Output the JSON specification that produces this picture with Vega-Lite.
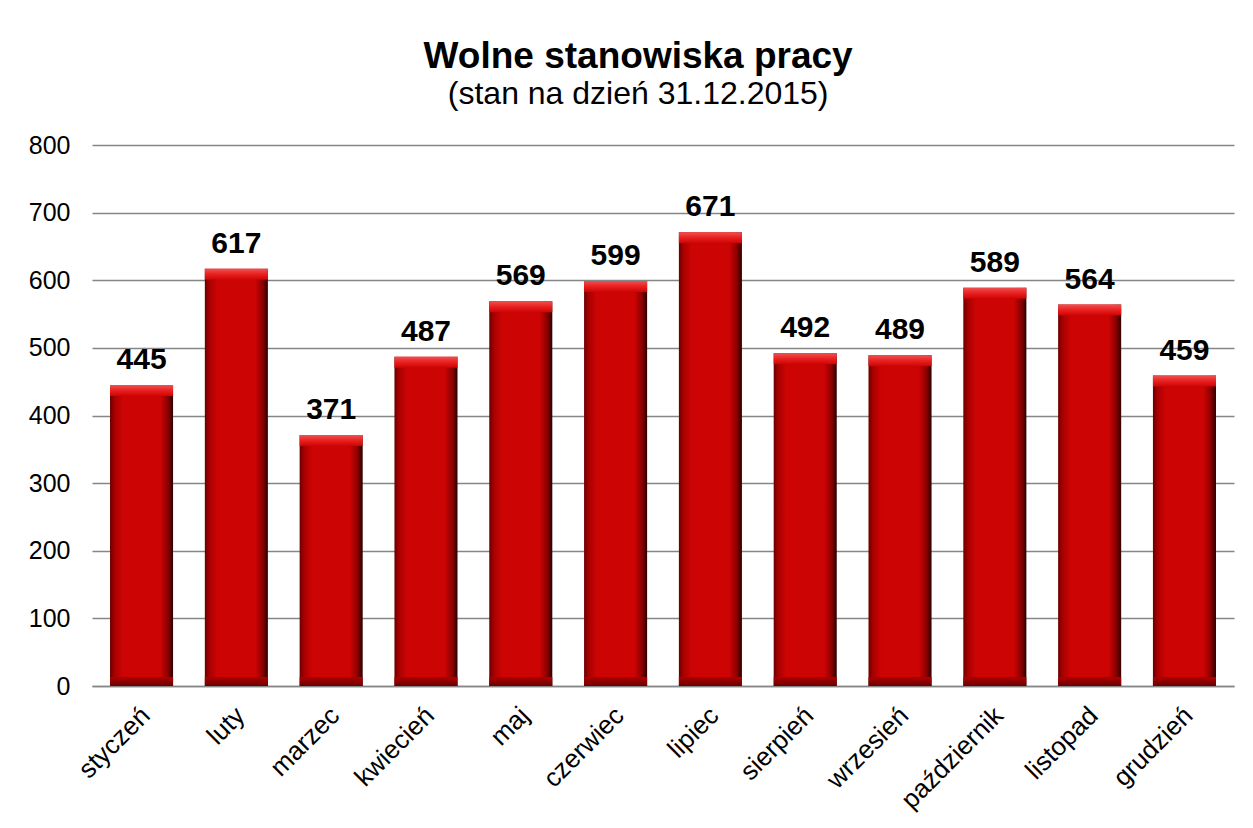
{
  "$schema": "https://vega.github.io/schema/vega-lite/v6.json",
  "autosize": "none",
  "width": 1142,
  "height": 541,
  "padding": {"left": 92, "top": 145, "right": 19, "bottom": 142},
  "background": "white",
  "config": {"view": {"stroke": null}},
  "title": {
    "text": "Wolne stanowiska pracy",
    "subtitle": "(stan na dzień 31.12.2015)",
    "frame": "bounds",
    "anchor": "middle",
    "dx": 7,
    "font": "Liberation Sans",
    "fontSize": 37,
    "fontWeight": "bold",
    "color": "#000000",
    "subtitleFont": "Liberation Sans",
    "subtitleFontSize": 32,
    "subtitleColor": "#000000",
    "subtitlePadding": 3,
    "offset": 22
  },
  "data": {
    "values": [
      {"miesiac": "styczeń", "wartosc": 445},
      {"miesiac": "luty", "wartosc": 617},
      {"miesiac": "marzec", "wartosc": 371},
      {"miesiac": "kwiecień", "wartosc": 487},
      {"miesiac": "maj", "wartosc": 569},
      {"miesiac": "czerwiec", "wartosc": 599},
      {"miesiac": "lipiec", "wartosc": 671},
      {"miesiac": "sierpień", "wartosc": 492},
      {"miesiac": "wrzesień", "wartosc": 489},
      {"miesiac": "październik", "wartosc": 589},
      {"miesiac": "listopad", "wartosc": 564},
      {"miesiac": "grudzień", "wartosc": 459}
    ]
  },
  "encoding": {
    "x": {
      "field": "miesiac",
      "type": "nominal",
      "sort": null,
      "scale": {"paddingInner": 0.335, "paddingOuter": 0.19},
      "axis": {
        "title": null,
        "labelAngle": -45,
        "labelAlign": "right",
        "labelBaseline": "top",
        "labelPadding": 16,
        "labelOffset": -5,
        "labelFont": "Liberation Sans",
        "labelFontSize": 26,
        "labelColor": "#000000",
        "ticks": false,
        "domainColor": "#868686",
        "domainWidth": 1.5,
        "grid": false
      }
    }
  },
  "layer": [
    {
      "mark": {
        "type": "bar",
        "color": {
          "gradient": "linear",
          "x1": 0, "x2": 1, "y1": 0, "y2": 0,
          "stops": [
            {"offset": 0, "color": "#6a0000"},
            {"offset": 0.07, "color": "#a80000"},
            {"offset": 0.2, "color": "#cc0404"},
            {"offset": 0.8, "color": "#cc0404"},
            {"offset": 0.92, "color": "#8a0000"},
            {"offset": 1, "color": "#2a0000"}
          ]
        }
      },
      "encoding": {
        "y": {
          "field": "wartosc",
          "type": "quantitative",
          "scale": {"domain": [0, 800]},
          "axis": {
            "title": null,
            "values": [0, 100, 200, 300, 400, 500, 600, 700, 800],
            "labelFont": "Liberation Sans",
            "labelFontSize": 25,
            "labelColor": "#000000",
            "labelPadding": 22,
            "ticks": false,
            "domain": false,
            "gridColor": "#868686",
            "gridWidth": 1.5
          }
        }
      }
    },
    {
      "mark": {
        "type": "bar",
        "y2Offset": 11,
        "color": {
          "gradient": "linear",
          "x1": 0, "x2": 0, "y1": 0, "y2": 1,
          "stops": [
            {"offset": 0, "color": "#f05050"},
            {"offset": 0.5, "color": "#e82020"},
            {"offset": 1, "color": "#cc0404"}
          ]
        }
      },
      "encoding": {
        "y": {"field": "wartosc", "type": "quantitative"},
        "y2": {"field": "wartosc"}
      }
    },
    {
      "mark": {
        "type": "bar",
        "y2Offset": -9,
        "color": {
          "gradient": "linear",
          "x1": 0, "x2": 0, "y1": 0, "y2": 1,
          "stops": [
            {"offset": 0, "color": "#b00000"},
            {"offset": 1, "color": "#6a0000"}
          ]
        }
      },
      "encoding": {
        "y": {"datum": 0, "type": "quantitative"},
        "y2": {"datum": 0}
      }
    },
    {
      "mark": {
        "type": "text",
        "font": "Liberation Sans",
        "fontSize": 30,
        "fontWeight": "bold",
        "color": "#000000",
        "baseline": "alphabetic",
        "dy": -16
      },
      "encoding": {
        "y": {"field": "wartosc", "type": "quantitative"},
        "text": {"field": "wartosc", "type": "quantitative"}
      }
    }
  ]
}
